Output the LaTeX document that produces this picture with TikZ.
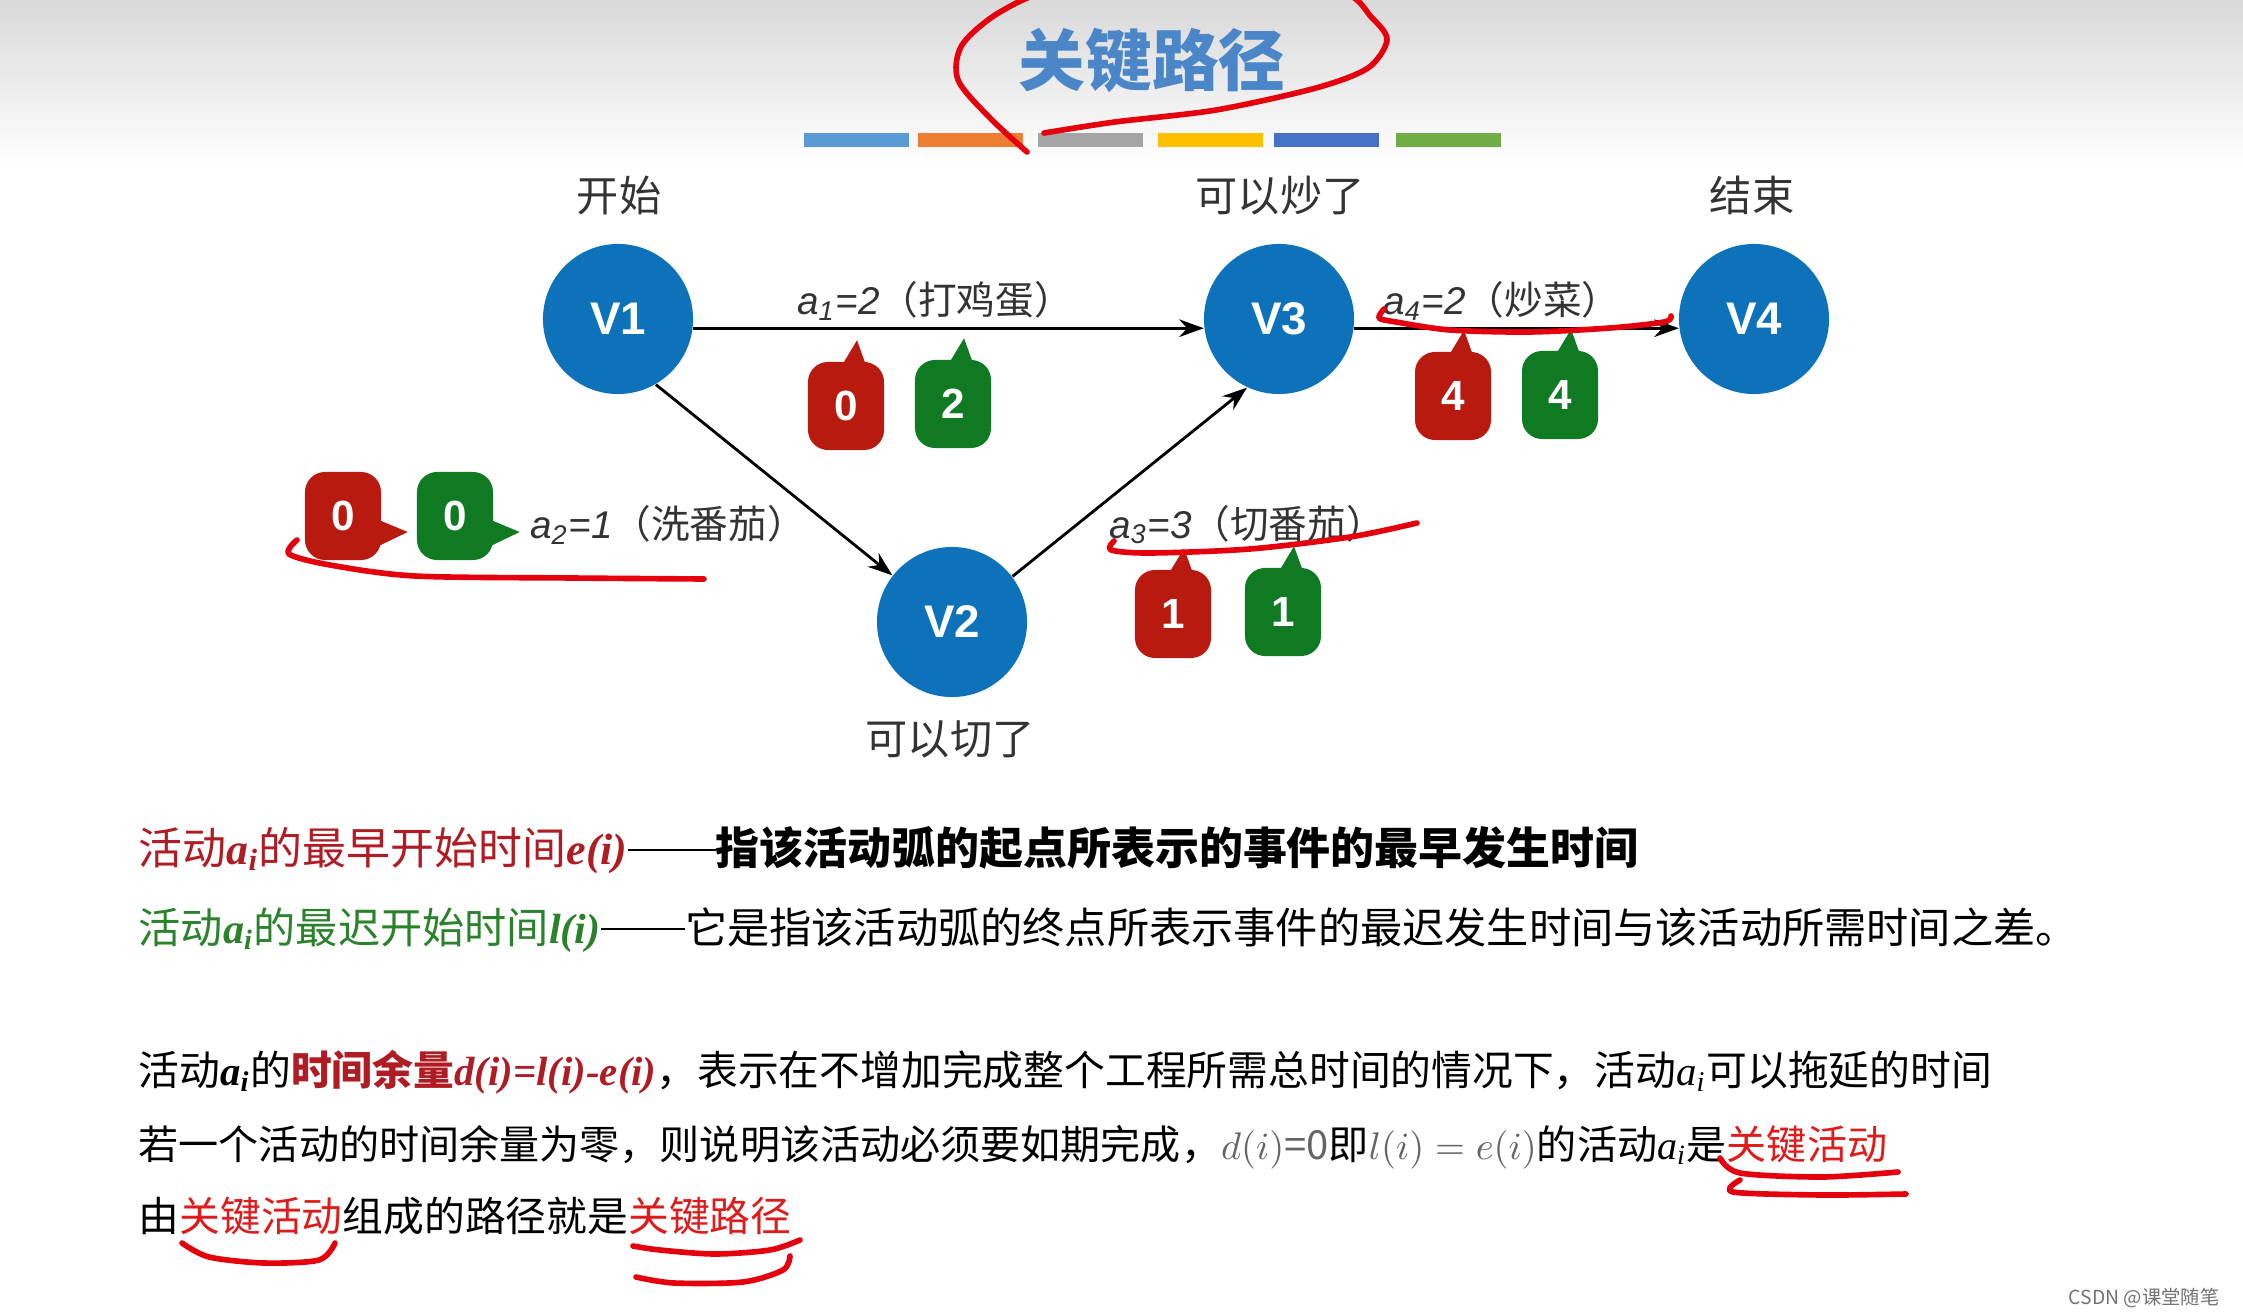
\documentclass[tikz,border=0pt]{standalone}
\usepackage{fontspec}
\setmainfont{Noto Sans CJK SC}
\newfontfamily\hv{Liberation Sans}
\newfontfamily\tm{Liberation Serif}
\usetikzlibrary{arrows.meta}

\definecolor{eventblue}{RGB}{14,114,186}
\definecolor{titleblue}{RGB}{74,134,200}
\definecolor{earlyred}{RGB}{184,26,16}
\definecolor{lategreen}{RGB}{16,122,34}
\definecolor{penred}{RGB}{228,0,12}
\definecolor{textred}{RGB}{176,28,36}
\definecolor{textgreen}{RGB}{42,130,42}
\definecolor{keyred}{RGB}{222,28,28}
\definecolor{labelgray}{RGB}{51,51,51}
\definecolor{mathgray}{RGB}{100,100,100}
\definecolor{barblue}{RGB}{91,155,213}
\definecolor{barorange}{RGB}{237,125,49}
\definecolor{bargray}{RGB}{165,165,165}
\definecolor{baryellow}{RGB}{255,192,0}
\definecolor{bardarkblue}{RGB}{68,114,196}
\definecolor{bargreen}{RGB}{112,173,71}

\newcommand{\acti}{{\tm\bfseries\itshape a\textsubscript{i}}}
\newcommand{\actilight}{{\tm\itshape a\textsubscript{i}}}
\newcommand{\longdash}{\rule[0.3em]{2em}{0.05em}}

\begin{document}
\begin{tikzpicture}[
			x=0.01cm, y=-0.01cm,
			event node/.style={circle, fill=eventblue, minimum size=1.5cm, inner sep=0pt, text=white, font=\hv\bfseries\fontsize{13}{15}\selectfont},
			early tip/.style={fill=earlyred, rounded corners=0.2cm, minimum width=0.76cm, minimum height=0.88cm, inner sep=0pt, text=white, font=\hv\bfseries\fontsize{12}{14}\selectfont},
			late tip/.style={early tip, fill=lategreen},
			state text/.style={anchor=base, font=\fontsize{12}{14}\selectfont, text=labelgray},
			act label/.style={anchor=base, font=\fontsize{11}{13}\selectfont, text=labelgray},
			act edge/.style={draw=black, line width=0.8pt, -{Stealth[length=7pt,width=5pt]}},
			note line/.style={anchor=base west, inner sep=0pt, font=\fontsize{11.6}{14}\selectfont},
			pen/.style={draw=penred, line width=1.6pt, line cap=round, line join=round}
			]
			
			\useasboundingbox (0,0) rectangle (2243,1316);
			\fill[white] (0,0) rectangle (2243,1316);
			\shade[top color=black!15, bottom color=white] (0,0) rectangle (2243,165);
			
			% title and colour bars
			\node[anchor=base, text=titleblue, font=\bfseries\fontsize{19}{22}\selectfont] (title) at (1152,86) {关键路径};
			\foreach \x/\c in {804/barblue, 918/barorange, 1038/bargray, 1158/baryellow, 1274/bardarkblue, 1396/bargreen}
				\fill[\c] (\x,133) rectangle ++(105,14);
			
			% events
			\node[event node] (V1) at (618,319) {V1};
			\node[event node] (V2) at (952,622) {V2};
			\node[event node] (V3) at (1279,319) {V3};
			\node[event node] (V4) at (1754,319) {V4};
			
			\node[state text] (s1) at (619,212) {开始};
			\node[state text] (s3) at (1280,212) {可以炒了};
			\node[state text] (s4) at (1752,212) {结束};
			\node[state text] (s2) at (950,754) {可以切了};
			
			% activities
			\draw[act edge] (V1.-7) -- (V3.187);
			\draw[act edge] (V1.-60) -- (V2.142);
			\draw[act edge] (V2.37) -- (V3.245);
			\draw[act edge] (V3.-7) -- (V4.187);
			
			\node[act label] (a1) at (935,315) {{\hv\itshape a\textsubscript{1}=2}（打鸡蛋）};
			\node[act label] (a2) at (668,539) {{\hv\itshape a\textsubscript{2}=1}（洗番茄）};
			\node[act label] (a3) at (1247,538) {{\hv\itshape a\textsubscript{3}=3}（切番茄）};
			\node[act label] (a4) at (1502,315) {{\hv\itshape a\textsubscript{4}=2}（炒菜）};
			
			% e(i) and l(i) tips
			\node[early tip] (e1) at (846,406) {0};
			\node[late tip] (l1) at (953,404) {2};
			\node[early tip] (e2) at (343,516) {0};
			\node[late tip] (l2) at (455,516) {0};
			\node[early tip] (e3) at (1173,614) {1};
			\node[late tip] (l3) at (1283,612) {1};
			\node[early tip] (e4) at (1453,396) {4};
			\node[late tip] (l4) at (1560,395) {4};
			
			\foreach \b/\c in {e1/earlyred, l1/lategreen, e3/earlyred, l3/lategreen, e4/earlyred, l4/lategreen}
				\fill[\c] (\b.north) ++(-4,4) -- ++(15,-25) -- ++(9,25) -- cycle;
			\foreach \b/\c in {e2/earlyred, l2/lategreen}
				\fill[\c] (\b.east) ++(-3,4) -- ++(29,12) -- ++(-29,14) -- cycle;
			
			% notes
			\node[note line, font=\fontsize{12.5}{15}\selectfont] (n1) at (138,864) {\textcolor{textred}{活动\acti 的最早开始时间{\tm\bfseries\itshape e(i)}}\longdash\textbf{指该活动弧的起点所表示的事件的最早发生时间}};
			\node[note line, font=\fontsize{12}{14}\selectfont] (n2) at (138,943) {\textcolor{textgreen}{活动\acti 的最迟开始时间{\tm\bfseries\itshape l(i)}}\longdash 它是指该活动弧的终点所表示事件的最迟发生时间与该活动所需时间之差。};
			\node[note line] (n3) at (138,1085) {活动\acti 的\textcolor{textred}{\bfseries 时间余量{\tm\itshape d(i)=l(i)-e(i)}}，表示在不增加完成整个工程所需总时间的情况下，活动\actilight 可以拖延的时间};
			\node[note line, font=\fontsize{11.4}{14}\selectfont] (n4) at (138,1159) {若一个活动的时间余量为零，则说明该活动必须要如期完成，{\color{mathgray}$d(i)$=0}即{\color{mathgray}$l(i)=e(i)$}的活动\actilight 是\textcolor{keyred}{关键活动}};
			\node[note line] (n5) at (138,1231) {由\textcolor{keyred}{关键活动}组成的路径就是\textcolor{keyred}{关键路径}};
			
			\node[anchor=east, text=black!55, font=\fontsize{5.5}{7}\selectfont] (mark) at (2232,1298) {CSDN @课堂随笔};
			
			% pen marks
			\draw[pen] plot[smooth] coordinates {(1027,152) (990,118) (958,80) (962,45) (1000,12) (1060,-12) (1200,-28) (1337,-10) (1372,18) (1387,40) (1368,68) (1316,88) (1216,110) (1115,122) (1044,133)};
			\draw[pen] plot[smooth] coordinates {(1384,309) (1379,318) (1396,322) (1450,330) (1530,332) (1610,328) (1664,322) (1671,316)};
			\draw[pen] plot[smooth] coordinates {(297,540) (289,554) (330,565) (415,576) (572,578) (704,579)};
			\draw[pen] plot[smooth] coordinates {(1114,541) (1111,550) (1150,553) (1250,549) (1350,537) (1417,523)};
			\draw[pen] plot[smooth] coordinates {(1720,1158) (1740,1173) (1822,1177) (1898,1172)};
			\draw[pen] plot[smooth] coordinates {(1740,1180) (1733,1192) (1822,1195) (1906,1194)};
			\draw[pen] plot[smooth] coordinates {(182,1243) (209,1257) (264,1263) (319,1260) (335,1243)};
			\draw[pen] plot[smooth] coordinates {(633,1246) (660,1250) (715,1254) (770,1250) (800,1240)};
			\draw[pen] plot[smooth] coordinates {(636,1277) (674,1283) (743,1282) (783,1270) (790,1256)};
		\end{tikzpicture}
\end{document}
